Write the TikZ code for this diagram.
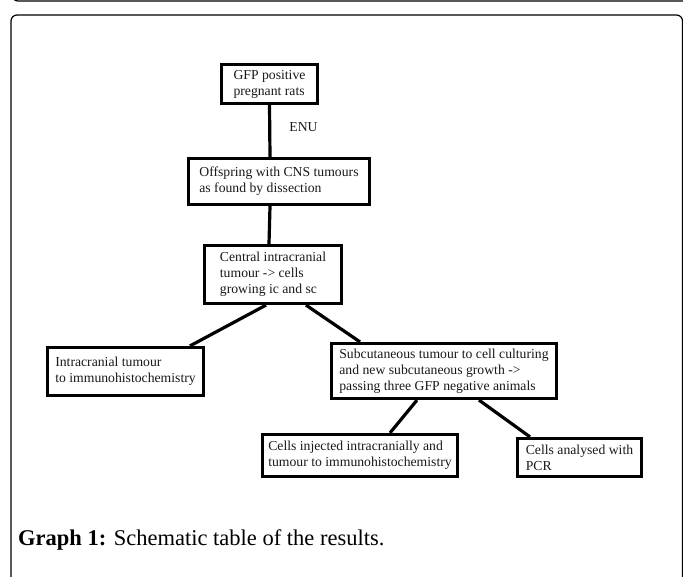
\documentclass[tikz,border=0pt]{standalone}
\usepackage{fontspec}
\setmainfont{Liberation Serif}
\begin{document}
\begin{tikzpicture}[x=1pt,y=-1pt,
  box/.style={draw=black, line width=3.2pt, align=left, inner sep=2pt, text=black!90,
    font=\fontsize{13.7}{16}\selectfont},
  link/.style={draw=black, line width=3.2pt},
  frame/.style={draw=black, line width=1.2pt, rounded corners=6pt}]
\useasboundingbox (0,0) rectangle (683,576);
\draw [frame] (12,-12) -- (12,1) -- (690,1);
\draw [frame] (11,600) -- (11,15) -- (682.5,15) -- (682.5,600);
\node [box, minimum width=96pt, minimum height=39pt] (gfp) at (269.5,84) {GFP positive\\pregnant rats};
\node [box, minimum width=181pt, minimum height=46pt] (offspring) at (279,181.5) {Offspring with CNS tumours\\as found by dissection};
\node [box, minimum width=137pt, minimum height=58pt] (central) at (273,274.5) {Central intracranial\\tumour -> cells\\growing ic and sc};
\node [box, minimum width=156pt, minimum height=48pt] (intra) at (125.5,371.5) {Intracranial tumour\\to immunohistochemistry};
\node [box, minimum width=225pt, minimum height=55pt] (subcut) at (444,371) {Subcutaneous tumour to cell culturing\\and new subcutaneous growth ->\\passing three GFP negative animals};
\node [box, minimum width=195pt, minimum height=42pt] (injected) at (360,455.5) {Cells injected intracranially and\\tumour to immunohistochemistry};
\node [box, minimum width=124pt, minimum height=38pt] (pcr) at (579.5,457.5) {Cells analysed with\\PCR};
\node [text=black!90, font=\fontsize{13.7}{16}\selectfont] (enu) at (303.5,127) {ENU};
\draw [link] (gfp.south) -- ([xshift=-9pt]offspring.north);
\draw [link] ([xshift=-9pt]offspring.south) -- ([xshift=-4pt]central.north);
\draw [link] ([xshift=-7pt]central.south) -- ([xshift=64.5pt]intra.north);
\draw [link] ([xshift=33pt]central.south) -- ([xshift=-84pt]subcut.north);
\draw [link] ([xshift=-27pt]subcut.south) -- ([xshift=30pt]injected.north);
\draw [link] ([xshift=35pt]subcut.south) -- ([xshift=-49.5pt]pcr.north);
\node [anchor=base west, inner sep=0pt, font=\fontsize{22.5}{26}\selectfont] (caption) at (18,545) {\textbf{Graph 1:} Schematic table of the results.};
\end{tikzpicture}
\end{document}
